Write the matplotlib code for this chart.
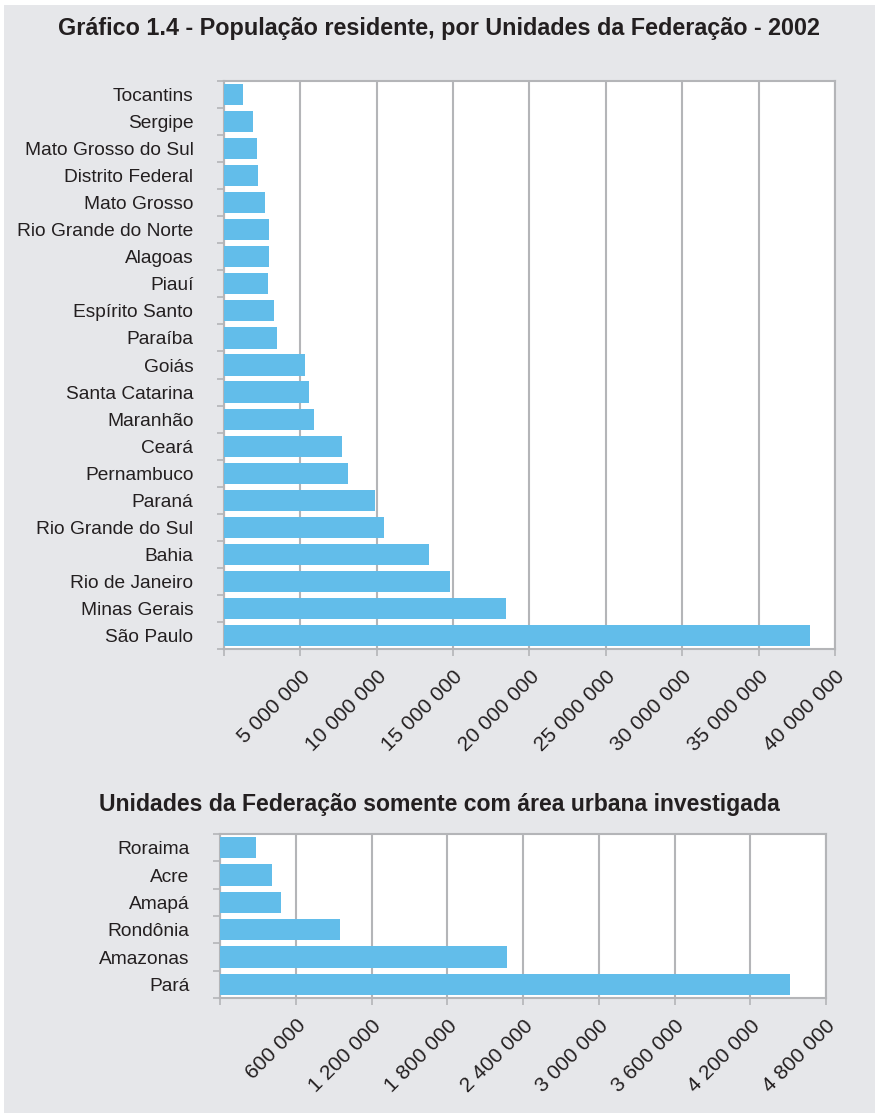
import matplotlib
matplotlib.use("Agg")
import matplotlib.pyplot as plt
from matplotlib.patches import Rectangle
from matplotlib.ticker import MultipleLocator

# Unidades da Federação, população residente 2002
uf_names = [
    "Tocantins", "Sergipe", "Mato Grosso do Sul", "Distrito Federal",
    "Mato Grosso", "Rio Grande do Norte", "Alagoas", "Piauí",
    "Espírito Santo", "Paraíba", "Goiás", "Santa Catarina", "Maranhão",
    "Ceará", "Pernambuco", "Paraná", "Rio Grande do Sul", "Bahia",
    "Rio de Janeiro", "Minas Gerais", "São Paulo",
]
uf_pop = [
    1240000, 1900000, 2150000, 2200000, 2680000, 2930000, 2940000,
    2910000, 3270000, 3500000, 5300000, 5560000, 5900000, 7740000,
    8120000, 9900000, 10480000, 13430000, 14800000, 18450000, 38350000,
]

# UFs com apenas área urbana investigada
urb_names = ["Roraima", "Acre", "Amapá", "Rondônia", "Amazonas", "Pará"]
urb_pop = [285000, 411000, 482000, 951000, 2274000, 4516000]

BG = "#e6e7ea"
BAR = "#62bdea"
GRID = "#b4b5b8"
TXT = "#231f20"

plt.rcParams["font.family"] = ["Liberation Sans", "DejaVu Sans"]

fig = plt.figure(figsize=(8.78, 11.13), dpi=100, facecolor="white")
fig.patches.append(Rectangle((4 / 878, 0), 871 / 878, 1 - 5 / 1113,
                             transform=fig.transFigure, facecolor=BG,
                             edgecolor="none", zorder=-10))


def thousands(v):
    return f"{int(v):,}".replace(",", " ")


def draw_panel(ax, names, values, xmax, step):
    n = len(names)
    ypos = list(range(n - 1, -1, -1))
    ax.barh(ypos, values, height=0.78, color=BAR, zorder=3)
    ax.set_ylim(-0.5, n - 0.5)
    ax.set_xlim(0, xmax)
    ax.set_facecolor("white")

    # category names, with short ticks between categories
    ax.set_yticks(ypos)
    ax.set_yticklabels(names, fontsize=13.8, color=TXT)
    ax.set_yticks([k - 0.5 for k in range(n + 1)], minor=True)
    ax.tick_params(axis="y", which="major", length=0, pad=22)
    ax.tick_params(axis="y", which="minor", length=5, width=1.2, color=GRID)

    ax.xaxis.set_major_locator(MultipleLocator(step))
    ticks = [t for t in ax.get_xticks() if 0 < t <= xmax]
    ax.set_xticks([0] + ticks)
    ax.set_xticklabels([""] + [thousands(t) for t in ticks])
    ax.tick_params(axis="x", length=5, width=1.2, color=GRID,
                   labelsize=15, labelcolor=TXT, pad=8)
    for lbl in ax.get_xticklabels():
        lbl.set_rotation(45)
        lbl.set_ha("right")
        lbl.set_va("top")
        lbl.set_rotation_mode("anchor")

    ax.grid(axis="x", color=GRID, linewidth=1.5, zorder=1)
    for side in ["top", "right", "bottom", "left"]:
        ax.spines[side].set_color(GRID)
        ax.spines[side].set_linewidth(1.5)


ax1 = fig.add_axes([224 / 878, 1 - 649 / 1113, 611 / 878, 568 / 1113])
draw_panel(ax1, uf_names, uf_pop, 40000000, 5000000)

ax2 = fig.add_axes([220 / 878, 1 - 998 / 1113, 606 / 878, 164 / 1113])
draw_panel(ax2, urb_names, urb_pop, 4800000, 600000)

fig.text(0.5, 1 - 29 / 1113,
         "Gráfico 1.4 - População residente, por Unidades da Federação - 2002",
         ha="center", va="center", fontsize=16.8, fontweight="bold", color=TXT)
fig.text(0.5, 1 - 804 / 1113,
         "Unidades da Federação somente com área urbana investigada",
         ha="center", va="center", fontsize=16.6, fontweight="bold", color=TXT)

fig.savefig("out.png", dpi=100, facecolor=fig.get_facecolor())
